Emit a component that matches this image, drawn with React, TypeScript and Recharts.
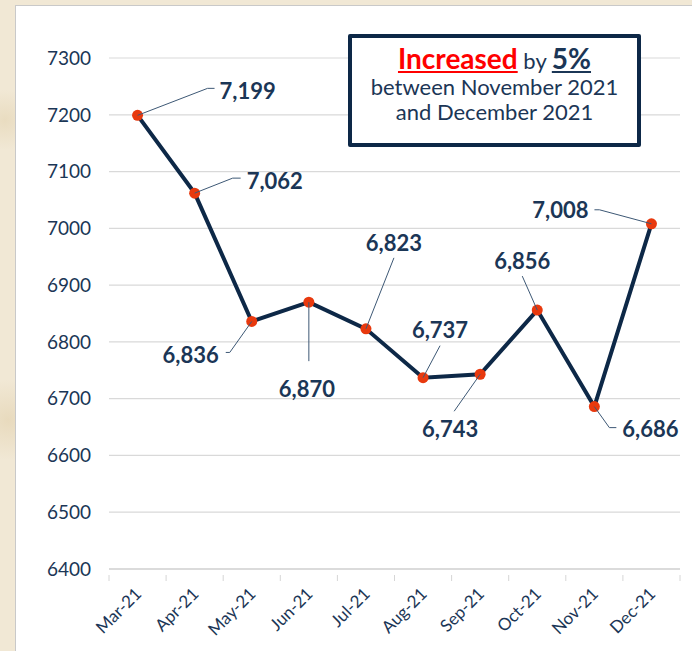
import { CartesianGrid, Line, LineChart, XAxis, YAxis } from "recharts";

const months = ["Mar-21", "Apr-21", "May-21", "Jun-21", "Jul-21", "Aug-21", "Sep-21", "Oct-21", "Nov-21", "Dec-21"];
const visitors = [7199, 7062, 6836, 6870, 6823, 6737, 6743, 6856, 6686, 7008];
const yTicks = [6400, 6500, 6600, 6700, 6800, 6900, 7000, 7100, 7200, 7300];

const data = months.map((month, i) => ({ month, value: visitors[i] }));

const NAVY = "#0d2847";
const TEXT = "#1b3656";

// callout layout per point: leader polyline (relative to point) + text anchor
const callouts = [
  { pts: [[70, -27], [77, -27]], tx: 82, ty: -25, anchor: "start" },
  { pts: [[38, -15], [46, -15]], tx: 52, ty: -13, anchor: "start" },
  { pts: [[-22, 31], [-26, 31]], tx: -33, ty: 33, anchor: "end" },
  { pts: [[0, 59]], tx: -2, ty: 86, anchor: "middle" },
  { pts: [[28, -71]], tx: 28, ty: -86, anchor: "middle" },
  { pts: [[17, -32]], tx: 17, ty: -48, anchor: "middle" },
  { pts: [[-26, 37]], tx: -30, ty: 54, anchor: "middle" },
  { pts: [[-15, -34]], tx: -15, ty: -50, anchor: "middle" },
  { pts: [[15, 21], [22, 21]], tx: 28, ty: 22, anchor: "start" },
  { pts: [[-52, -14], [-57, -14]], tx: -63, ty: -14, anchor: "end" },
];

const BAND = 57.1;

function CalloutLabel(props: any) {
  const { x, y, value, index } = props;
  const c = callouts[index];
  if (!c) return null;
  const path = [`M${x},${y}`, ...c.pts.map(([dx, dy]) => `L${x + dx},${y + dy}`)].join(" ");
  return (
    <g>
      <path d={path} stroke="#3d5875" strokeWidth={1} fill="none" />
      <text
        x={x + c.tx}
        y={y + c.ty}
        textAnchor={c.anchor}
        dominantBaseline="central"
        fontSize={22}
        fontWeight={700}
        fill={TEXT}
        fontFamily="Lato"
      >
        {Number(value).toLocaleString("en-US")}
      </text>
    </g>
  );
}

function MonthTick(props: any) {
  const { x, y, payload, index } = props;
  const last = index === months.length - 1;
  return (
    <g>
      <line x1={x - BAND / 2} y1={y - 8} x2={x - BAND / 2} y2={y - 2} stroke="#d6d6d6" />
      {last && <line x1={x + BAND / 2} y1={y - 8} x2={x + BAND / 2} y2={y - 2} stroke="#d6d6d6" />}
      <text
        x={x + 5}
        y={y + 12}
        textAnchor="end"
        transform={`rotate(-45 ${x + 5} ${y + 12})`}
        fontSize={17}
        fill={TEXT}
        fontFamily="Lato"
      >
        {payload.value}
      </text>
    </g>
  );
}

export default function App() {
  return (
    <div
      style={{
        position: "absolute",
        left: 0,
        top: 0,
        width: 692,
        height: 651,
        overflow: "hidden",
        background:
          "radial-gradient(circle at 5px 120px, #e9dcc0 0, transparent 30px), radial-gradient(circle at 8px 420px, #e8dabd 0, transparent 40px), #f1e8d5",
      }}
    >
      <div
        style={{
          position: "absolute",
          left: 15,
          top: 5,
          width: 690,
          height: 660,
          background: "#fff",
          borderLeft: "1.5px solid #c9c9c9",
          borderTop: "1.5px solid #c9c9c9",
        }}
      >
        <LineChart width={676} height={645} data={data} margin={{ top: 52, right: 12, bottom: 10, left: 0 }}>
          <CartesianGrid vertical={false} stroke="#d9d9d9" strokeWidth={1.2} />
          <XAxis
            dataKey="month"
            height={72}
            padding={{ left: BAND / 2, right: BAND / 2 }}
            axisLine={{ stroke: "#d6d6d6", strokeWidth: 1.5 }}
            tickLine={false}
            interval={0}
            tick={<MonthTick />}
            tickMargin={8}
          />
          <YAxis
            domain={[6400, 7300]}
            ticks={yTicks}
            width={93}
            axisLine={false}
            tickLine={false}
            tickSize={0}
            tickMargin={18}
            tick={{ fontSize: 19, fill: TEXT, fontFamily: "Lato" }}
          />
          <Line
            type="linear"
            dataKey="value"
            stroke={NAVY}
            strokeWidth={4}
            dot={{ r: 5.5, fill: "#e8390e", stroke: "#e8390e", strokeWidth: 0 }}
            label={<CalloutLabel />}
            isAnimationActive={false}
          />
        </LineChart>
        <div
          style={{
            position: "absolute",
            left: 332,
            top: 28,
            width: 285,
            height: 105,
            border: `4px solid ${NAVY}`,
            borderRadius: 2,
            background: "#fff",
            fontFamily: "Lato",
            color: TEXT,
            textAlign: "center",
            lineHeight: 1.1,
          }}
        >
          <div style={{ marginTop: 5, fontSize: 22 }}>
            <span style={{ color: "#ff0000", fontWeight: 700, fontSize: 28, textDecoration: "underline" }}>Increased</span>{" "}
            by{" "}
            <span style={{ fontWeight: 700, fontSize: 28, textDecoration: "underline" }}>5%</span>
          </div>
          <div style={{ fontSize: 22, marginTop: 1 }}>between November 2021</div>
          <div style={{ fontSize: 22, marginTop: 1 }}>and December 2021</div>
        </div>
      </div>
    </div>
  );
}
